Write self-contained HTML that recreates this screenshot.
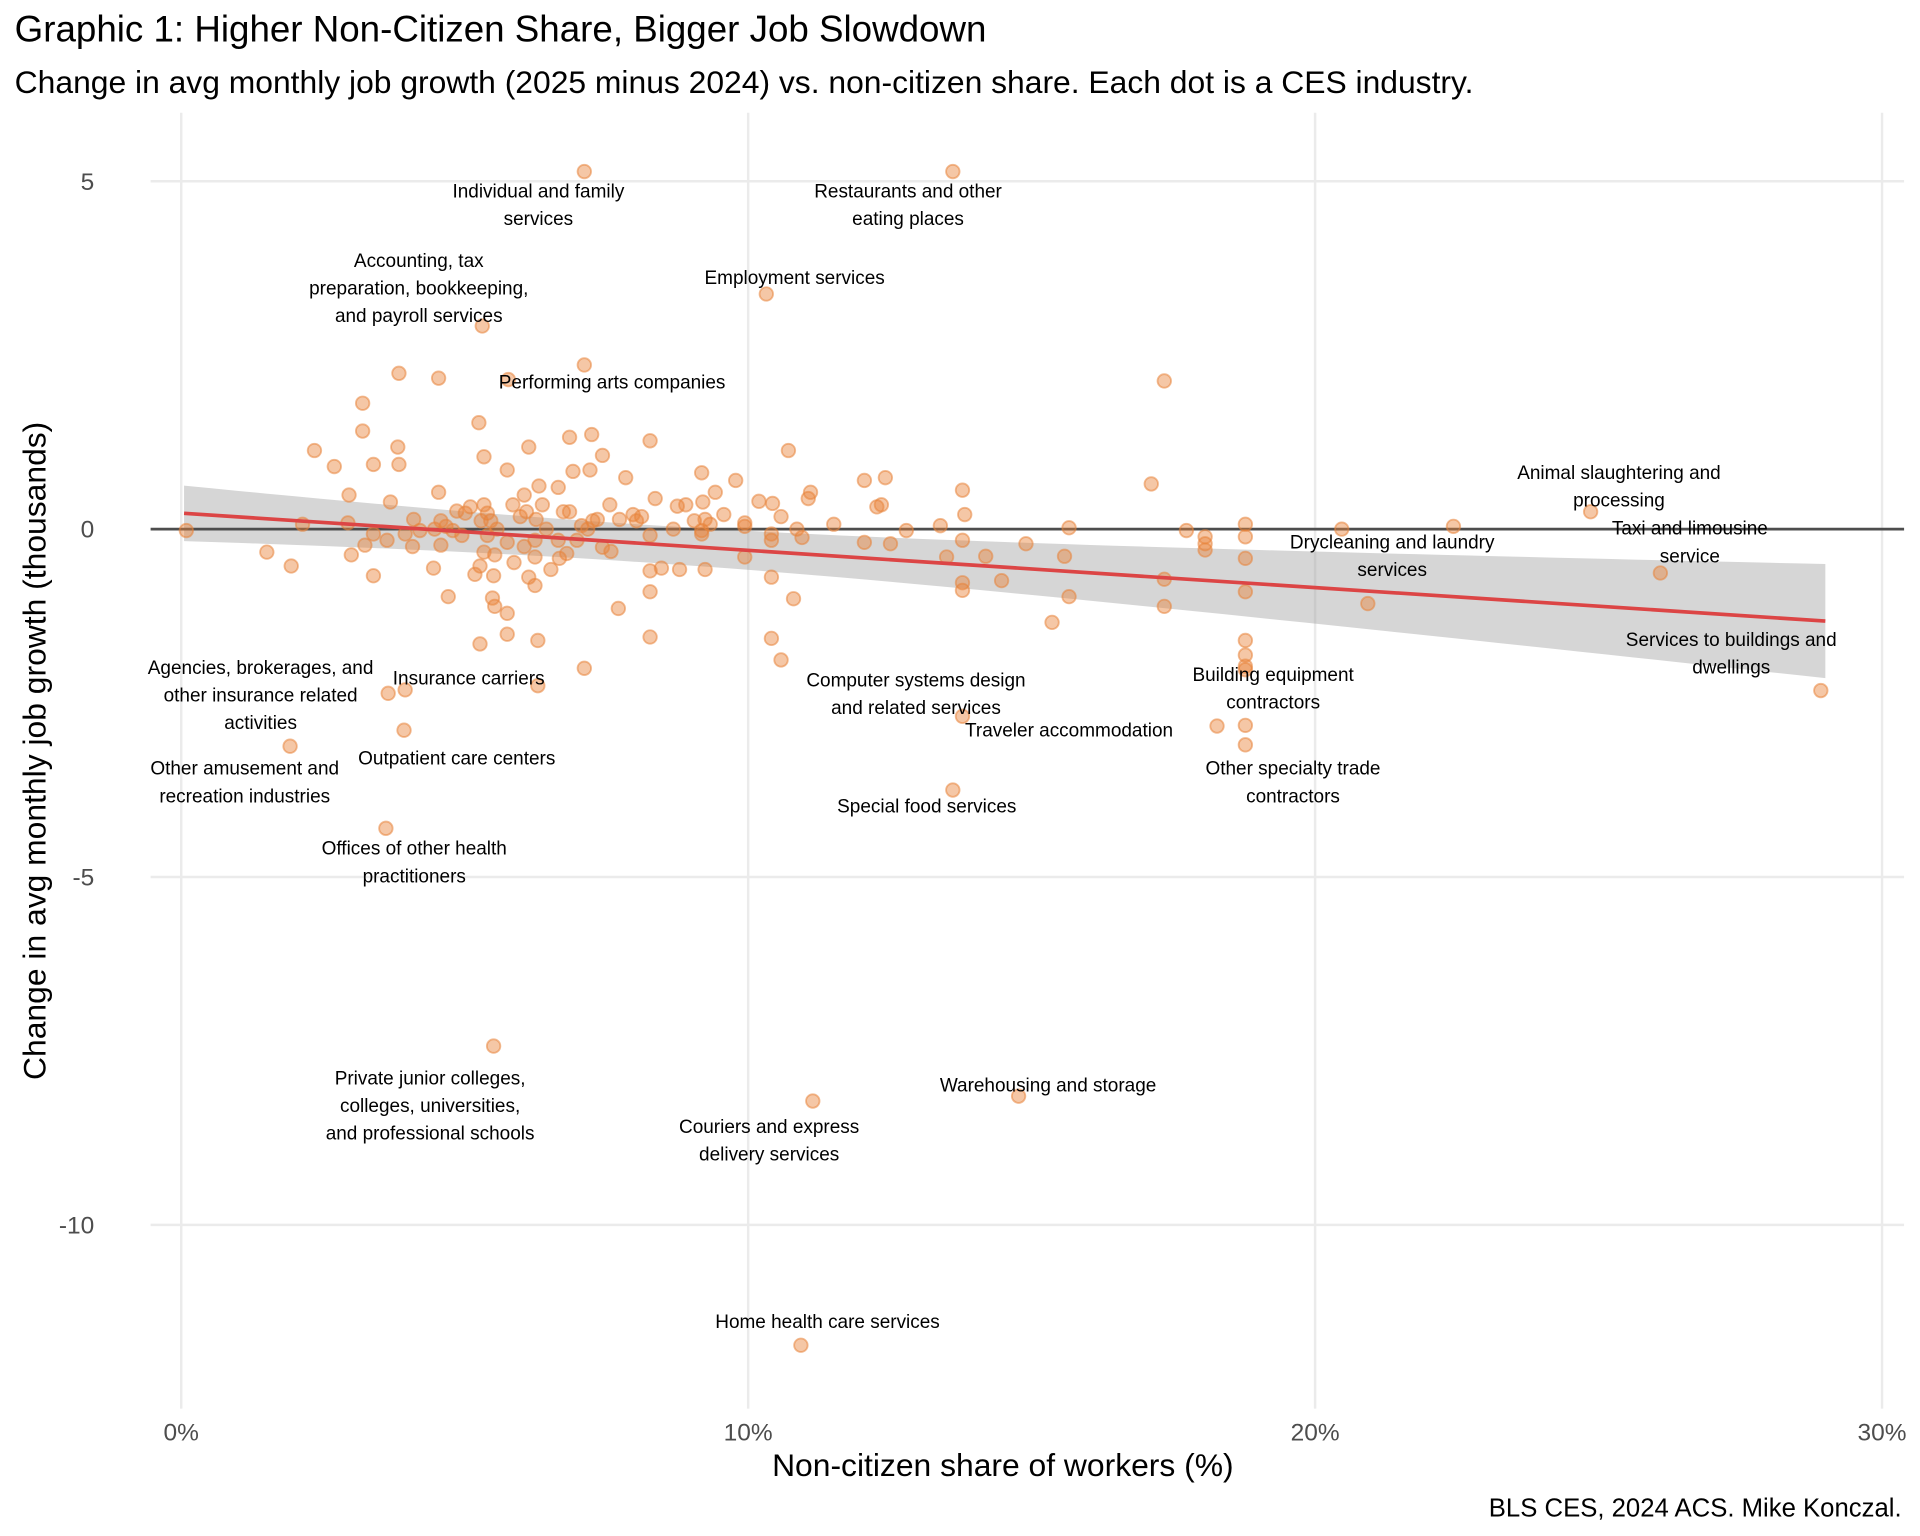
<!DOCTYPE html>
<html><head><meta charset="utf-8"><style>
html,body{margin:0;padding:0;background:#fff;}
svg{display:block;font-family:"Liberation Sans",Arial,sans-serif;}
</style></head><body>
<svg id="chart" width="1920" height="1536" viewBox="0 0 1568 1254" preserveAspectRatio="none" xmlns="http://www.w3.org/2000/svg">
<rect width="1568" height="1254" fill="#fff"/>
<text x="12" y="34" font-size="30" fill="#000">Graphic 1: Higher Non-Citizen Share, Bigger Job Slowdown</text>
<text x="12" y="76" font-size="26" fill="#000">Change in avg monthly job growth (2025 minus 2024) vs. non-citizen share. Each dot is a CES industry.</text>
<g id="grid"></g>
<g id="ribbon"></g>
<g id="zero"></g>
<g id="points"></g>
<g id="fit"></g>
<g id="labels"></g>
<g id="axes"></g>
<text x="819" y="1205" font-size="26" text-anchor="middle" fill="#000">Non-citizen share of workers (%)</text>
<text transform="translate(37,613) rotate(-90)" font-size="26" text-anchor="middle" fill="#000">Change in avg monthly job growth (thousands)</text>
<text x="1553" y="1238" font-size="21" text-anchor="end" fill="#000">BLS CES, 2024 ACS. Mike Konczal.</text>
</svg>
<script>
const xTicks=[0,10,20,30];
const xTickLabels=["0%","10%","20%","30%"];
const yTicks=[5,0,-5,-10];
const yTickLabels=["5","0","-5","-10"];
const fitIntercept=0.23;
const fitSlope=-0.0535;
const fitRange=[0.05,29];
const bandA=0.0731, bandB=0.001358, bandCenter=8;
const pointX=[7.11,13.61,10.32,5.31,7.11,5.77,17.34,24.86,26.09,20.93,28.92,18.77,18.77,18.27,13.78,13.61,14.77,11.14,10.93,5.51,3.61,1.92,3.65,3.95,3.93,6.29,7.11,
2.35,2.70,3.20,3.20,3.39,3.82,3.84,3.84,4.54,3.69,2.96,5.25,5.34,5.75,6.13,6.85,7.24,7.43,6.91,7.21,7.84,8.27,10.71,9.78,9.18,11.10,11.06,12.05,12.42,12.35,12.27,13.78,13.82,17.11,17.73,18.77,18.77,18.77,18.77,18.77,18.77,18.77,18.77,18.06,18.06,18.06,17.34,17.34,20.47,22.44,15.66,15.58,15.66,15.36,14.90,14.47,14.19,13.78,13.78,13.78,13.50,13.39,12.79,12.51,12.05,11.51,10.86,10.41,10.41,10.41,10.41,10.58,10.80,9.94,10.43,10.19,10.58,9.94,9.57,9.42,9.20,9.24,9.33,8.90,8.75,9.05,9.18,9.24,9.18,8.68,8.79,8.47,8.27,8.27,8.27,7.71,8.27,8.36,7.97,8.12,7.56,7.73,7.34,7.43,7.58,7.17,6.85,6.74,6.65,6.98,7.06,6.80,6.67,6.52,6.65,6.44,6.37,6.31,6.26,6.09,5.98,6.24,6.24,6.24,6.13,5.87,6.05,5.57,5.75,5.75,5.75,6.29,5.46,5.40,5.34,5.29,5.40,5.34,5.53,5.51,5.18,5.27,5.49,5.53,5.27,5.10,5.01,4.86,4.58,4.67,4.95,4.79,4.54,4.47,4.58,4.45,4.71,4.21,4.10,3.95,4.08,3.63,3.39,3.39,3.24,2.94,3.00,2.14,1.94,1.51,0.09,5.85,6.05,7.26,8.03,9.94,10.95];
const pointY=[5.14,5.14,3.38,2.92,2.36,2.15,2.13,0.25,-0.63,-1.07,-2.32,-2.82,-3.10,-2.83,-2.69,-3.75,-8.15,-8.22,-11.73,-7.43,-4.30,-3.12,-2.36,-2.31,-2.89,-2.25,-2.00,
1.13,0.90,1.81,1.41,0.93,1.18,0.93,2.24,2.17,0.39,0.49,1.53,1.04,0.85,1.18,1.32,1.36,1.06,0.83,0.85,0.74,1.27,1.13,0.70,0.81,0.53,0.44,0.70,0.74,0.35,0.32,0.56,0.21,0.65,-0.02,0.07,-0.11,-0.42,-0.90,-1.60,-1.81,-1.97,-2.02,-0.11,-0.21,-0.30,-0.72,-1.11,0.0,0.04,0.02,-0.39,-0.97,-1.34,-0.21,-0.74,-0.39,-0.16,-0.77,-0.88,-0.40,0.05,-0.02,-0.21,-0.19,0.07,0.0,-0.07,-0.16,-0.69,-1.57,-1.88,-1.00,-0.40,0.37,0.40,0.18,0.09,0.21,0.53,0.39,0.14,0.07,0.35,0.33,0.12,-0.02,-0.58,-0.07,0.0,-0.58,-0.56,-0.60,-0.90,-1.55,-1.14,-0.09,0.44,0.21,0.18,0.35,0.14,0.14,-0.26,-0.32,0.0,0.25,0.25,0.60,-0.16,0.05,-0.35,-0.42,-0.58,-0.16,0.0,0.35,0.62,0.14,0.25,0.18,-0.16,-0.40,-0.81,-0.69,-0.48,-0.25,0.0,-0.19,-1.21,-1.51,-1.60,0.12,0.23,0.35,0.12,-0.09,-0.33,-0.37,-0.67,-0.65,-0.53,-0.99,-1.11,-1.65,0.32,0.23,0.26,0.12,0.04,-0.09,-0.02,0.53,0.0,-0.23,-0.56,-0.97,-0.02,0.14,-0.07,-0.25,-0.16,-0.07,-0.67,-0.23,0.09,-0.37,0.07,-0.53,-0.33,-0.02,0.35,0.49,0.12,0.12,0.04,-0.12];
const labelText=[["Individual and family","services"],["Restaurants and other","eating places"],["Employment services"],["Accounting, tax","preparation, bookkeeping,","and payroll services"],["Performing arts companies"],["Animal slaughtering and","processing"],["Taxi and limousine","service"],["Drycleaning and laundry","services"],["Services to buildings and","dwellings"],["Building equipment","contractors"],["Traveler accommodation"],["Other specialty trade","contractors"],["Computer systems design","and related services"],["Special food services"],["Agencies, brokerages, and","other insurance related","activities"],["Insurance carriers"],["Outpatient care centers"],["Other amusement and","recreation industries"],["Offices of other health","practitioners"],["Private junior colleges,","colleges, universities,","and professional schools"],["Warehousing and storage"],["Couriers and express","delivery services"],["Home health care services"]];
const labelX=[6.3,12.82,10.82,4.19,7.6,25.36,26.61,21.36,27.34,19.26,15.66,19.61,12.96,13.15,1.4,5.07,4.86,1.12,4.11,4.39,15.29,10.37,11.4];
const labelY=[4.77,4.77,3.52,3.77,2.02,0.72,-0.08,-0.28,-1.68,-2.18,-2.98,-3.53,-2.26,-4.07,-2.08,-2.23,-3.38,-3.53,-4.68,-7.98,-8.08,-8.68,-11.48];

const NS="http://www.w3.org/2000/svg";
const X0=148,XS=46.3,Y0=432,YS=56.8;
const xs=v=>X0+v*XS, ys=v=>Y0-v*YS;
const PL=123,PR=1555,PT=92,PB=1150;
function mk(tag,attrs,parent){const e=document.createElementNS(NS,tag);for(const k in attrs)e.setAttribute(k,attrs[k]);parent.appendChild(e);return e;}
const grid=document.getElementById('grid');
xTicks.forEach(t=>{const l=mk('line',{x1:xs(t),x2:xs(t),y1:PT,y2:PB,stroke:'#ebebeb','stroke-width':2},grid);

});
yTicks.forEach(t=>{const l=mk('line',{x1:PL,x2:PR,y1:ys(t),y2:ys(t),stroke:'#ebebeb','stroke-width':2},grid);

});
const axes=document.getElementById('axes');
xTicks.forEach((t,i)=>{const e=mk('text',{x:xs(t),y:1176,'font-size':20,'text-anchor':'middle',fill:'#4d4d4d'},axes);e.textContent=xTickLabels[i];

});
yTicks.forEach((t,i)=>{const e=mk('text',{x:77,y:ys(t)+7,'font-size':20,'text-anchor':'end',fill:'#4d4d4d'},axes);e.textContent=yTickLabels[i];

});
const rib=document.getElementById('ribbon');
let up=[],lo=[];
for(let i=0;i<=60;i++){const x=fitRange[0]+(fitRange[1]-fitRange[0])*i/60;const c=fitIntercept+fitSlope*x;const h=Math.sqrt(bandA+bandB*(x-bandCenter)**2);up.push(xs(x)+','+ys(c+h));lo.unshift(xs(x)+','+ys(c-h));}
const poly=mk('polygon',{points:up.concat(lo).join(' '),fill:'#999','fill-opacity':0.4},rib);


const z=mk('line',{x1:PL,x2:PR,y1:ys(0),y2:ys(0),stroke:'#4d4d4d','stroke-width':2.2},document.getElementById('zero'));


const pts=document.getElementById('points');
pointX.forEach((x,i)=>{const c=mk('circle',{cx:xs(x),cy:ys(pointY[i]),r:5.5,fill:'#E8833A','fill-opacity':0.45,stroke:'#E8833A','stroke-opacity':0.55,'stroke-width':1.5},pts);

});
const fl=mk('line',{x1:xs(fitRange[0]),y1:ys(fitIntercept+fitSlope*fitRange[0]),x2:xs(fitRange[1]),y2:ys(fitIntercept+fitSlope*fitRange[1]),stroke:'#DC4545','stroke-width':3},document.getElementById('fit'));


const lab=document.getElementById('labels');
labelText.forEach((lines,i)=>{const t=mk('text',{x:xs(labelX[i]),y:ys(labelY[i]),'font-size':15.5,'text-anchor':'middle',fill:'#000'},lab);


lines.forEach((s,j)=>{const ts=mk('tspan',{x:xs(labelX[i]),dy:j?22.5:0},t);ts.textContent=s;});});
</script>
</body></html>
